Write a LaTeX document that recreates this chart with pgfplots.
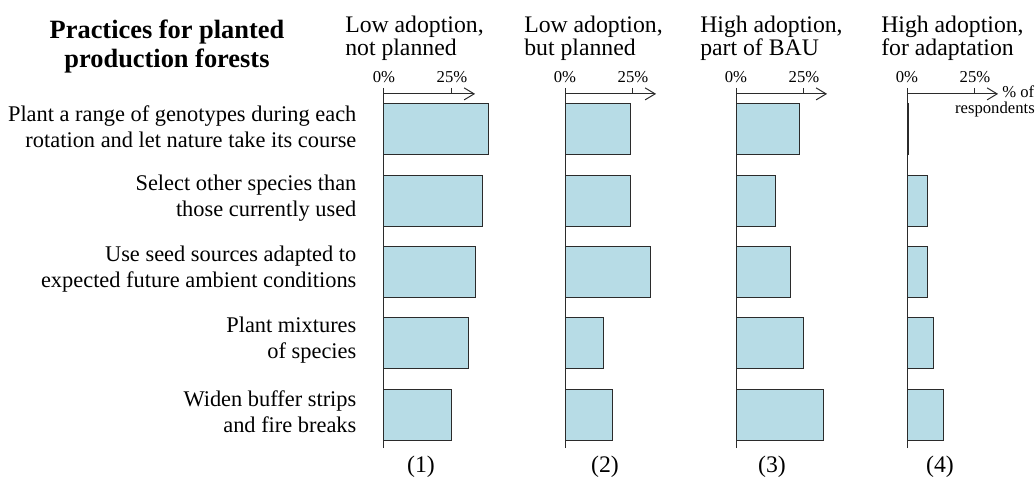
\documentclass[border=0pt]{standalone}
\usepackage{pgfplots}
\pgfplotsset{compat=1.18}
\usepackage{fontspec}
\setmainfont{Liberation Serif}
\usetikzlibrary{arrows.meta}
\definecolor{barblue}{HTML}{B7DCE6}
\definecolor{bardark}{HTML}{2B2B2B}
\pgfplotsset{panel/.style={
  xbar, scale only axis, anchor=south west,
  width=68.33pt, height=265.6pt,
  xmin=0, xmax=33.5, ymin=0.53, ymax=5.5,
  enlargelimits=false, clip=false,
  axis x line*=top, axis y line*=left,
  axis line style={bardark, line width=0.75pt},
  x axis line style={-{Straight Barb[length=7.5pt,width=9pt,line width=0.75pt]}},
  y axis line style={-},
  xtick={0,25}, xticklabels={0\%,25\%},
  xtick align=outside, major tick length=4.5pt,
  x tick style={bardark, line width=0.75pt},
  /pgf/number format/assume math mode=true,
  xticklabel style={font=\fontsize{12.5}{13}\selectfont, inner sep=0pt, anchor=south, yshift=3.5pt},
  ytick=\empty,
  bar width=38.25pt,
},
pbar/.style={fill=barblue, draw=bardark, line width=0.75pt}}
\begin{document}
\begin{tikzpicture}
\path[use as bounding box] (0,0) rectangle (777pt,-362.25pt);
% main title
\node[anchor=base, font=\fontsize{19.8}{21}\selectfont\bfseries, inner sep=0pt] at ({167*0.75pt},{-38*0.75pt}) {Practices for planted};
\node[anchor=base, font=\fontsize{19.8}{21}\selectfont\bfseries, inner sep=0pt] at ({167*0.75pt},{-67*0.75pt}) {production forests};
% column titles
\foreach \xx/\la/\lb in {345/{Low adoption,}/{not planned}, 524/{Low adoption,}/{but planned}, 700/{High adoption,}/{part of BAU}, 881/{High adoption,}/{for adaptation}}{
  \node[anchor=base west, font=\fontsize{17.8}{19}\selectfont, inner sep=0pt] at ({\xx*0.75pt},{-32*0.75pt}) {\la};
  \node[anchor=base west, font=\fontsize{17.8}{19}\selectfont, inner sep=0pt] at ({\xx*0.75pt},{-55*0.75pt}) {\lb};
}
% panel 1
\begin{axis}[panel, at={({384*0.75pt},{-448*0.75pt})},
  ytick={1,2,3,4,5}, y tick style={draw=none},
  yticklabels={{Widen buffer strips\\and fire breaks},{Plant mixtures\\of species},{Use seed sources adapted to\\expected future ambient conditions},{Select other species than\\those currently used},{Plant a range of genotypes during each\\rotation and let nature take its course}},
  yticklabel style={align=right, font=\fontsize{16.8}{19.5}\selectfont, inner sep=0pt, xshift=-16pt, yshift=2pt}]
\addplot[pbar] coordinates {(38.6,5) (36.4,4) (33.8,3) (30.9,2) (25.0,1)};
\end{axis}
% panel 2
\begin{axis}[panel, at={({565*0.75pt},{-448*0.75pt})}]
\addplot[pbar] coordinates {(23.9,5) (23.9,4) (31.3,3) (14.0,2) (17.3,1)};
\end{axis}
% panel 3
\begin{axis}[panel, at={({736*0.75pt},{-448*0.75pt})}]
\addplot[pbar] coordinates {(23.5,5) (14.7,4) (19.9,3) (25.0,2) (32.0,1)};
\end{axis}
% panel 4
\begin{axis}[panel, at={({907*0.75pt},{-448*0.75pt})}]
\addplot[pbar] coordinates {(0.4,5) (7.7,4) (7.7,3) (9.9,2) (13.6,1)};
\end{axis}
\node[anchor=base west, font=\fontsize{12.5}{13}\selectfont, inner sep=0pt] at ({1002*0.75pt},{-97*0.75pt}) {\% of};
\node[anchor=base east, font=\fontsize{12.5}{13}\selectfont, inner sep=0pt] at ({1035*0.75pt},{-113*0.75pt}) {respondents};
% bottom labels
\foreach \xx/\lab in {421/(1), 605/(2), 772/(3), 940/(4)}{
  \node[anchor=center, font=\fontsize{17.8}{19}\selectfont, inner sep=0pt] at ({\xx*0.75pt},{-467*0.75pt}) {\lab};
}
\end{tikzpicture}
\end{document}
